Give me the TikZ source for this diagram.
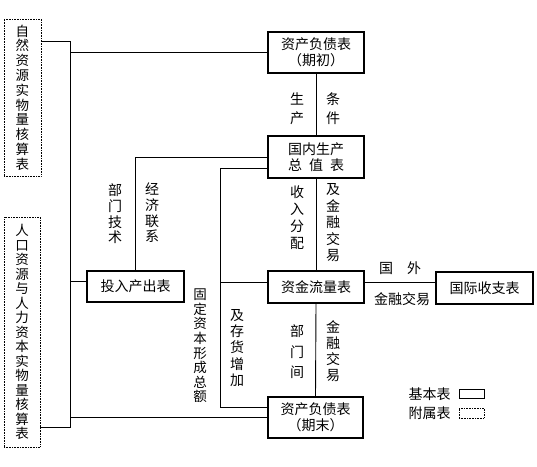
\documentclass[tikz,border=0pt]{standalone}
\usepackage{fontspec}
\newfontfamily\cjk{Noto Sans CJK SC}
\begin{document}
\begin{tikzpicture}[x=1pt,y=-1pt,
  ln/.style={line width=0.9pt},
  basebox/.style={draw,line width=1.1pt,rectangle,inner sep=0pt,align=center,
     font=\cjk\fontsize{14}{15.5}\selectfont},
  subbox/.style={draw,line width=0.6pt,densely dotted,rectangle,inner sep=0pt,align=center},
  vlab/.style={inner sep=0pt,align=center},
]
\useasboundingbox (0,0) rectangle (537,466);
% boxes
\node[subbox,minimum width=37pt,minimum height=157pt,font=\cjk\fontsize{13.5}{14.8}\selectfont] (nat) at (22.5,97.5)
  {自\\然\\资\\源\\实\\物\\量\\核\\算\\表};
\node[subbox,minimum width=36pt,minimum height=230pt,font=\cjk\fontsize{13.5}{14.5}\selectfont] (pop) at (22,332)
  {人\\口\\资\\源\\与\\人\\力\\资\\本\\实\\物\\量\\核\\算\\表};
\node[basebox,minimum width=96pt,minimum height=41pt] (bs0) at (316,52.5) {资产负债表\\（期初）};
\node[basebox,minimum width=96pt,minimum height=42pt] (gdp) at (316,157) {国内生产\\总\hspace{0.5em}值\hspace{0.5em}表};
\node[basebox,minimum width=97pt,minimum height=31pt] (io) at (135.5,286.5) {投入产出表};
\node[basebox,minimum width=96pt,minimum height=32pt] (flow) at (316,287) {资金流量表};
\node[basebox,minimum width=97pt,minimum height=32pt] (bop) at (484.5,288) {国际收支表};
\node[basebox,minimum width=95pt,minimum height=41pt] (bs1) at (315.5,417.5) {资产负债表\\（期末）};
% junction coordinates
\coordinate (j1) at (70,41);
\coordinate (j2) at (70,427);
\coordinate (j3) at (70,52);
\coordinate (j4) at (70,281);
\coordinate (j5) at (70,417);
\coordinate (k1) at (220,168);
\coordinate (k2) at (220,407);
\coordinate (k3) at (220,282);
\coordinate (m1) at (364,282);
% connectors
\draw[ln] (nat.east |- j1) -- (j1) -- (j2) -- (pop.east |- j2);
\draw[ln] (j3) -- (j3 -| bs0.west);
\draw[ln] (j4) -- (j4 -| io.west);
\draw[ln] (j5) -- (j5 -| bs1.west);
\draw[ln] (io.north) |- (gdp.west);
\draw[ln] (bs0.south) -- (gdp.north);
\draw[ln] (gdp.south) -- (flow.north);
\draw[ln] (flow.south) -- (bs1.north);
\draw[ln] (k1 -| gdp.west) -- (k1) -- (k2) -- (k2 -| bs1.west);
\draw[ln] (k3) -- (k3 -| flow.west);
\draw[ln] (m1 -| flow.east) -- (m1 -| bop.west);
% labels
\node[vlab,font=\cjk\fontsize{14}{19}\selectfont] (l1) at (297,109) {生\\产};
\node[vlab,font=\cjk\fontsize{14}{19}\selectfont] (l2) at (333,109) {条\\件};
\node[vlab,font=\cjk\fontsize{14}{17}\selectfont] (l3) at (297,218) {收\\入\\分\\配};
\node[vlab,font=\cjk\fontsize{14}{16.5}\selectfont] (l4) at (333,223) {及\\金\\融\\交\\易};
\node[vlab,font=\cjk\fontsize{14}{20.5}\selectfont] (l5) at (297,352) {部\\门\\间};
\node[vlab,font=\cjk\fontsize{14}{16}\selectfont] (l6) at (333,351) {金\\融\\交\\易};
\node[vlab,font=\cjk\fontsize{14}{16.3}\selectfont] (l7) at (237,348) {及\\存\\货\\增\\加};
\node[vlab,font=\cjk\fontsize{13.5}{14.6}\selectfont] (l8) at (200,346) {固\\定\\资\\本\\形\\成\\总\\额};
\node[vlab,font=\cjk\fontsize{14}{15.7}\selectfont] (l9) at (115,214) {部\\门\\技\\术};
\node[vlab,font=\cjk\fontsize{14}{15.7}\selectfont] (l10) at (152,213) {经\\济\\联\\系};
\node[vlab,font=\cjk\fontsize{14}{15}\selectfont] (l11) at (400,268) {国\hspace{1em}外};
\node[vlab,font=\cjk\fontsize{14}{15}\selectfont] (l12) at (402,299) {金融交易};
% legend
\node[vlab,font=\cjk\fontsize{14}{15}\selectfont] (lg1) at (429.5,394) {基本表};
\node[vlab,font=\cjk\fontsize{14}{15}\selectfont] (lg2) at (429.5,413) {附属表};
\node[draw,line width=1pt,minimum width=25pt,minimum height=9pt,inner sep=0pt] (lgb) at (471.5,393.5) {};
\node[subbox,minimum width=25pt,minimum height=10pt] (lgd) at (471.5,413) {};
\end{tikzpicture}
\end{document}
